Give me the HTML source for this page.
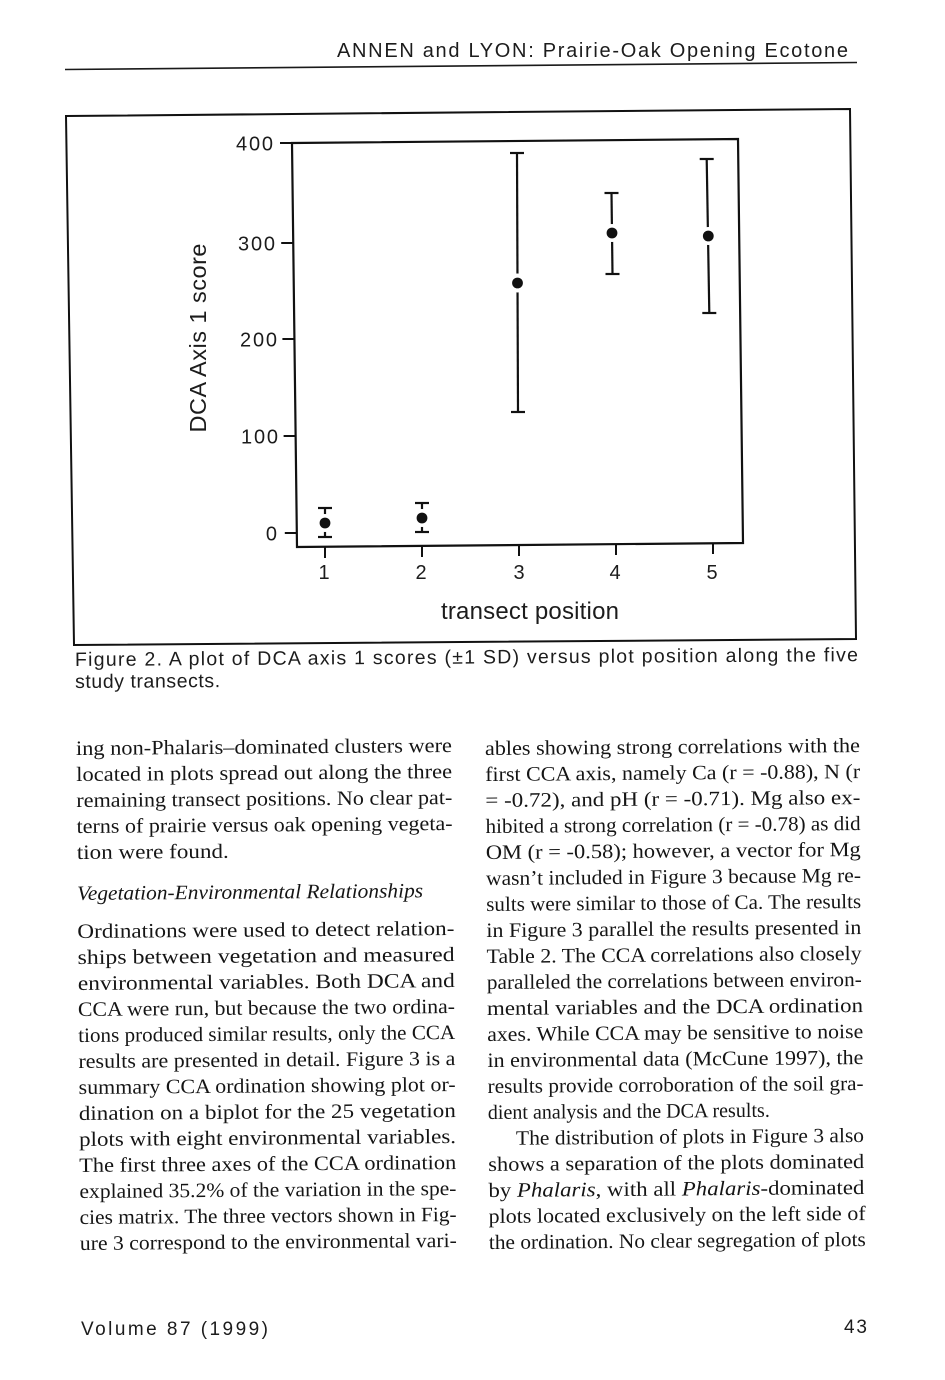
<!DOCTYPE html>
<html>
<head>
<meta charset="utf-8">
<style>
  html,body{margin:0;padding:0;background:#fff;}
  body{width:945px;height:1380px;overflow:hidden;position:relative;}
  svg{display:block;}
  .sans{font-family:"Liberation Sans",Arial,Helvetica,sans-serif;}
  .serif{font-family:"Liberation Serif","Times New Roman",serif;}
</style>
</head>
<body>
<svg width="945" height="1380" viewBox="0 0 945 1380" xmlns="http://www.w3.org/2000/svg">
  <rect x="0" y="0" width="945" height="1380" fill="#ffffff"/>

  <!-- Running header -->
  <text class="sans" x="337" y="57" font-size="20" fill="#1c1c1c" textLength="511" lengthAdjust="spacing">ANNEN and LYON: Prairie-Oak Opening Ecotone</text>
  <line x1="65" y1="69.5" x2="857" y2="62.5" stroke="#1a1a1a" stroke-width="1.6"/>

  <!-- Outer figure frame -->
  <polygon points="66,116 850,109 856,639 74,645" fill="none" stroke="#111" stroke-width="2"/>

  <!-- Plot area -->
  <polygon points="292,143 738,139 743,543 297,547" fill="none" stroke="#111" stroke-width="2.2"/>

  <!-- Y ticks -->
  <g stroke="#111" stroke-width="2">
    <line x1="280" y1="143" x2="292" y2="143"/>
    <line x1="281.2" y1="243" x2="293.2" y2="243"/>
    <line x1="282.4" y1="339" x2="294.4" y2="339"/>
    <line x1="283.6" y1="436" x2="295.6" y2="436"/>
    <line x1="284.8" y1="533" x2="296.8" y2="533"/>
  </g>
  <g class="sans" font-size="20" fill="#1c1c1c" text-anchor="end">
    <text x="273" y="150.5" textLength="37" lengthAdjust="spacing">400</text>
    <text x="275" y="250.5" textLength="37" lengthAdjust="spacing">300</text>
    <text x="277" y="346.5" textLength="37" lengthAdjust="spacing">200</text>
    <text x="278" y="443.5" textLength="37" lengthAdjust="spacing">100</text>
    <text x="277" y="540.5">0</text>
  </g>

  <!-- X ticks -->
  <g stroke="#111" stroke-width="2">
    <line x1="325" y1="546.7" x2="325" y2="558"/>
    <line x1="422" y1="545.9" x2="422" y2="557"/>
    <line x1="519" y1="545" x2="519" y2="556"/>
    <line x1="616" y1="544.1" x2="616" y2="555"/>
    <line x1="713" y1="543.3" x2="713" y2="554"/>
  </g>
  <g class="sans" font-size="20" fill="#1c1c1c" text-anchor="middle">
    <text x="324" y="579">1</text>
    <text x="421" y="579">2</text>
    <text x="519" y="579">3</text>
    <text x="615" y="579">4</text>
    <text x="712" y="579">5</text>
  </g>

  <!-- Axis titles -->
  <text class="sans" x="441" y="619" font-size="24" fill="#1c1c1c" textLength="178" lengthAdjust="spacing">transect position</text>
  <text class="sans" transform="translate(206,338) rotate(-90)" text-anchor="middle" font-size="23.5" fill="#1c1c1c" textLength="189" lengthAdjust="spacing">DCA Axis 1 score</text>

  <!-- Error bars -->
  <g stroke="#111" stroke-width="2.2" fill="none">
    <!-- 1 -->
    <line x1="325" y1="508" x2="325" y2="537"/>
    <line x1="318" y1="508" x2="332" y2="508"/>
    <line x1="318" y1="537" x2="332" y2="537"/>
    <!-- 2 -->
    <line x1="422" y1="503" x2="422" y2="532"/>
    <line x1="415" y1="503" x2="429" y2="503"/>
    <line x1="415" y1="532" x2="429" y2="532"/>
    <!-- 3 -->
    <line x1="517" y1="153" x2="518" y2="412"/>
    <line x1="510" y1="153" x2="524" y2="153"/>
    <line x1="511" y1="412" x2="525" y2="412"/>
    <!-- 4 -->
    <line x1="611.5" y1="193" x2="612.5" y2="274"/>
    <line x1="604.5" y1="193" x2="618.5" y2="193"/>
    <line x1="605.5" y1="274" x2="619.5" y2="274"/>
    <!-- 5 -->
    <line x1="706.7" y1="159" x2="709.3" y2="313"/>
    <line x1="699.7" y1="159" x2="713.7" y2="159"/>
    <line x1="702.3" y1="313" x2="716.3" y2="313"/>
  </g>
  <g>
    <circle cx="325" cy="523" r="9" fill="#fff"/>
    <circle cx="325" cy="523" r="5.4" fill="#111"/>
    <circle cx="422" cy="518" r="9" fill="#fff"/>
    <circle cx="422" cy="518" r="5.4" fill="#111"/>
    <circle cx="517.5" cy="283" r="9.5" fill="#fff"/>
    <circle cx="517.5" cy="283" r="5.4" fill="#111"/>
    <circle cx="612" cy="233" r="9" fill="#fff"/>
    <circle cx="612" cy="233" r="5.4" fill="#111"/>
    <circle cx="708.3" cy="236" r="9" fill="#fff"/>
    <circle cx="708.3" cy="236" r="5.4" fill="#111"/>
  </g>

  <!-- Caption -->
  <g class="sans" font-size="19.5" fill="#1c1c1c" transform="rotate(-0.35 75 666)">
    <text x="75" y="666" textLength="783" lengthAdjust="spacing">Figure 2. A plot of DCA axis 1 scores (±1 SD) versus plot position along the five</text>
    <text x="75" y="688" textLength="145" lengthAdjust="spacing">study transects.</text>
  </g>

  <!-- Left column -->
  <g class="serif" font-size="20.5" fill="#151515" transform="rotate(-0.45 76 755)">
    <text x="76" y="755" textLength="376" lengthAdjust="spacingAndGlyphs">ing non-Phalaris–dominated clusters were</text>
    <text x="76" y="781" textLength="376" lengthAdjust="spacingAndGlyphs">located in plots spread out along the three</text>
    <text x="76" y="807" textLength="376" lengthAdjust="spacingAndGlyphs">remaining transect positions. No clear pat-</text>
    <text x="76" y="833" textLength="376" lengthAdjust="spacingAndGlyphs">terns of prairie versus oak opening vegeta-</text>
    <text x="76" y="859" textLength="152" lengthAdjust="spacingAndGlyphs">tion were found.</text>

    <text x="76" y="900" font-style="italic" textLength="346" lengthAdjust="spacingAndGlyphs">Vegetation-Environmental Relationships</text>

    <text x="76" y="938" textLength="377" lengthAdjust="spacingAndGlyphs">Ordinations were used to detect relation-</text>
    <text x="76" y="964" textLength="377" lengthAdjust="spacingAndGlyphs">ships between vegetation and measured</text>
    <text x="76" y="990" textLength="377" lengthAdjust="spacingAndGlyphs">environmental variables. Both DCA and</text>
    <text x="76" y="1016" textLength="377" lengthAdjust="spacingAndGlyphs">CCA were run, but because the two ordina-</text>
    <text x="76" y="1042" textLength="377" lengthAdjust="spacingAndGlyphs">tions produced similar results, only the CCA</text>
    <text x="76" y="1068" textLength="377" lengthAdjust="spacingAndGlyphs">results are presented in detail. Figure 3 is a</text>
    <text x="76" y="1094" textLength="377" lengthAdjust="spacingAndGlyphs">summary CCA ordination showing plot or-</text>
    <text x="76" y="1120" textLength="377" lengthAdjust="spacingAndGlyphs">dination on a biplot for the 25 vegetation</text>
    <text x="76" y="1146" textLength="377" lengthAdjust="spacingAndGlyphs">plots with eight environmental variables.</text>
    <text x="76" y="1172" textLength="377" lengthAdjust="spacingAndGlyphs">The first three axes of the CCA ordination</text>
    <text x="76" y="1198" textLength="377" lengthAdjust="spacingAndGlyphs">explained 35.2% of the variation in the spe-</text>
    <text x="76" y="1224" textLength="377" lengthAdjust="spacingAndGlyphs">cies matrix. The three vectors shown in Fig-</text>
    <text x="76" y="1250" textLength="377" lengthAdjust="spacingAndGlyphs">ure 3 correspond to the environmental vari-</text>
  </g>

  <!-- Right column -->
  <g class="serif" font-size="20.5" fill="#151515" transform="rotate(-0.45 485 755)">
    <text x="485" y="755" textLength="375" lengthAdjust="spacingAndGlyphs">ables showing strong correlations with the</text>
    <text x="485" y="781" textLength="375" lengthAdjust="spacingAndGlyphs">first CCA axis, namely Ca (r = -0.88), N (r</text>
    <text x="485" y="807" textLength="375" lengthAdjust="spacingAndGlyphs">= -0.72), and pH (r = -0.71). Mg also ex-</text>
    <text x="485" y="833" textLength="375" lengthAdjust="spacingAndGlyphs">hibited a strong correlation (r = -0.78) as did</text>
    <text x="485" y="859" textLength="375" lengthAdjust="spacingAndGlyphs">OM (r = -0.58); however, a vector for Mg</text>
    <text x="485" y="885" textLength="375" lengthAdjust="spacingAndGlyphs">wasn’t included in Figure 3 because Mg re-</text>
    <text x="485" y="911" textLength="375" lengthAdjust="spacingAndGlyphs">sults were similar to those of Ca. The results</text>
    <text x="485" y="937" textLength="375" lengthAdjust="spacingAndGlyphs">in Figure 3 parallel the results presented in</text>
    <text x="485" y="963" textLength="375" lengthAdjust="spacingAndGlyphs">Table 2. The CCA correlations also closely</text>
    <text x="485" y="989" textLength="375" lengthAdjust="spacingAndGlyphs">paralleled the correlations between environ-</text>
    <text x="485" y="1015" textLength="376" lengthAdjust="spacingAndGlyphs">mental variables and the DCA ordination</text>
    <text x="485" y="1041" textLength="376" lengthAdjust="spacingAndGlyphs">axes. While CCA may be sensitive to noise</text>
    <text x="485" y="1067" textLength="376" lengthAdjust="spacingAndGlyphs">in environmental data (McCune 1997), the</text>
    <text x="485" y="1093" textLength="376" lengthAdjust="spacingAndGlyphs">results provide corroboration of the soil gra-</text>
    <text x="485" y="1119" textLength="282" lengthAdjust="spacingAndGlyphs">dient analysis and the DCA results.</text>
    <text x="513" y="1145" textLength="348" lengthAdjust="spacingAndGlyphs">The distribution of plots in Figure 3 also</text>
    <text x="485" y="1171" textLength="376" lengthAdjust="spacingAndGlyphs">shows a separation of the plots dominated</text>
    <text x="485" y="1197" textLength="376" lengthAdjust="spacingAndGlyphs">by <tspan font-style="italic">Phalaris</tspan>, with all <tspan font-style="italic">Phalaris</tspan>-dominated</text>
    <text x="485" y="1223" textLength="377" lengthAdjust="spacingAndGlyphs">plots located exclusively on the left side of</text>
    <text x="485" y="1249" textLength="377" lengthAdjust="spacingAndGlyphs">the ordination. No clear segregation of plots</text>
  </g>

  <!-- Footer -->
  <text class="sans" x="81" y="1335" font-size="19" fill="#1c1c1c" textLength="187" lengthAdjust="spacing">Volume 87 (1999)</text>
  <text class="sans" x="844" y="1333" font-size="19" fill="#1c1c1c" textLength="23" lengthAdjust="spacing">43</text>
</svg>
</body>
</html>
